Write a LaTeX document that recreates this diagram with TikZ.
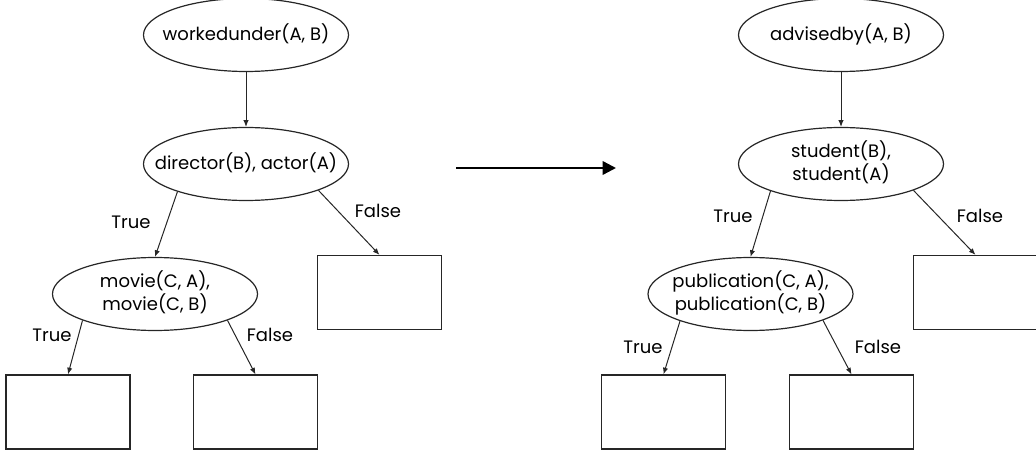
\documentclass[tikz,border=0pt]{standalone}
\usepackage{fontspec}
\setmainfont{Poppins}
\usetikzlibrary{shapes.geometric,arrows.meta}
\newcommand\fixtext[1]{\makebox[0pt]{\begin{tabular}{@{}c@{}}#1\end{tabular}}}
\begin{document}
\begin{tikzpicture}[x=0.75pt,y=-0.75pt,
  test/.style={draw=black!85,line width=0.9pt,ellipse,minimum width=153.75pt,minimum height=54.75pt,inner sep=0pt,font=\fontsize{13.5}{16}\selectfont},
  leaf/.style={draw=black!85,line width=0.9pt,rectangle,minimum width=93pt,minimum height=55.5pt,inner sep=0pt},
  lab/.style={inner sep=0pt,font=\fontsize{13.5}{16}\selectfont},
  edge/.style={draw=black!85,line width=0.75pt,-{Latex[length=5pt,width=4pt]}},
  big/.style={draw=black,line width=1.8pt,-{Triangle[length=10pt,width=10pt]}}]
\useasboundingbox (0,0) rectangle (1036,456);
% left tree
\node[test] (wu) at (246,35) {\fixtext{workedunder(A, B)}};
\node[test] (dir) at (246,164) {\fixtext{director(B), actor(A)}};
\node[test] (mov) at (155,294) {\fixtext{movie(C, A),\\movie(C, B)}};
\node[leaf] (lf) at (379.5,292.5) {};
\node[leaf] (l1) at (68,412) {};
\node[leaf] (l2) at (255.5,412) {};
\draw[edge] (wu.south) -- (dir.north);
\draw[edge] (dir.202) -- (mov.north);
\draw[edge] (dir.340) -- (lf.north);
\draw[edge] (mov.200) -- (l1.north);
\draw[edge] (mov.340) -- (l2.north);
\node[lab] (t1) at (131,222) {True};
\node[lab] (f1) at (378,211) {False};
\node[lab] (t2) at (52,335) {True};
\node[lab] (f2) at (270,335) {False};
% middle arrow
\coordinate (ma) at (456,168);
\coordinate (mb) at (616,168);
\draw[big] (ma) -- (mb);
% right tree
\node[test] (ad) at (841,35) {\fixtext{advisedby(A, B)}};
\node[test] (st) at (841,164) {\fixtext{student(B),\\student(A)}};
\node[test] (pub) at (750.5,294) {\fixtext{publication(C, A),\\publication(C, B)}};
\node[leaf] (rf) at (975.5,292.5) {};
\node[leaf] (r1) at (663.5,412) {};
\node[leaf] (r2) at (851.5,412) {};
\draw[edge] (ad.south) -- (st.north);
\draw[edge] (st.201) -- (pub.north);
\draw[edge] (st.340) -- (rf.north);
\draw[edge] (pub.201) -- (r1.north);
\draw[edge] (pub.340) -- (r2.north);
\node[lab] (t3) at (733,216) {True};
\node[lab] (f3) at (980,216) {False};
\node[lab] (t4) at (643,347) {True};
\node[lab] (f4) at (878,347) {False};
\end{tikzpicture}
\end{document}
